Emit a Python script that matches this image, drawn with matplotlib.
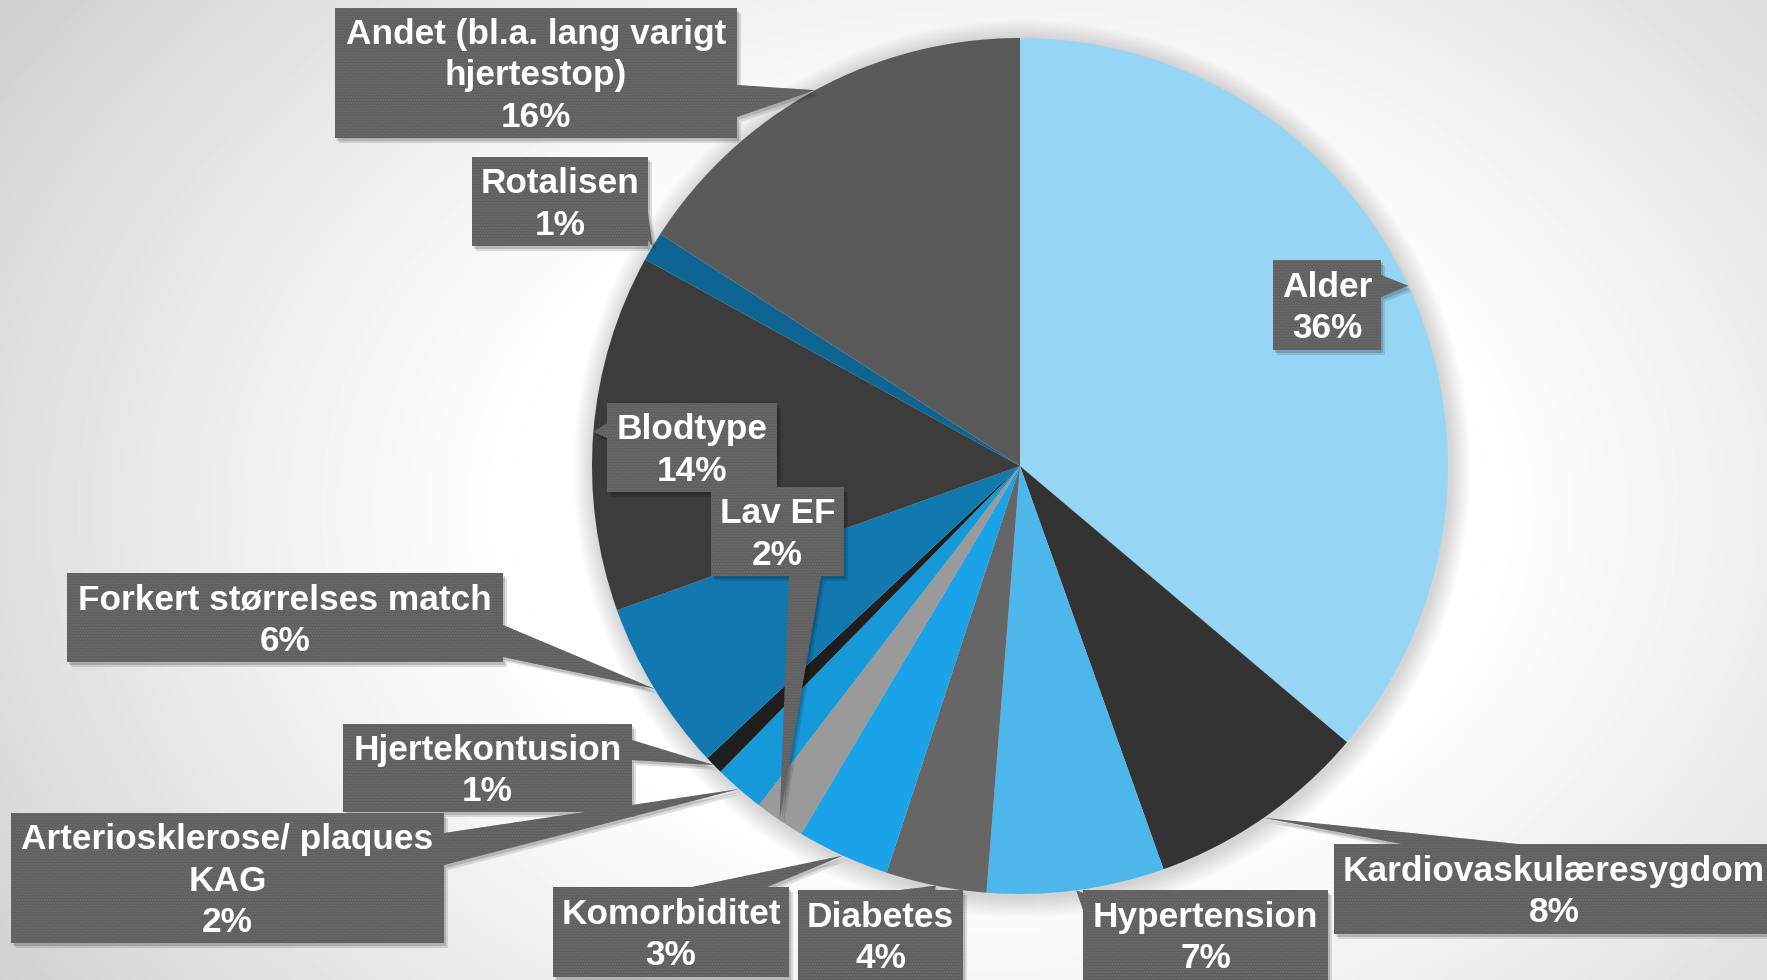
import numpy as np
import matplotlib
matplotlib.use('Agg')
from matplotlib import pyplot as plt
from matplotlib.patches import Rectangle, Polygon, Circle

W, H = 1767, 980

labels = ['Alder', 'Kardiovaskulæresygdom', 'Hypertension', 'Diabetes', 'Komorbiditet', 'Lav EF',
          'Arteriosklerose/ plaques\nKAG', 'Hjertekontusion', 'Forkert størrelses match', 'Blodtype',
          'Rotalisen', 'Andet (bl.a. lang varigt\nhjertestop)']
shares = [36.2, 8.4, 6.7, 3.8, 3.5, 1.9, 1.9, 0.7, 6.5, 13.5, 1.1, 15.9]
percent_text = ['36%', '8%', '7%', '4%', '3%', '2%', '2%', '1%', '6%', '14%', '1%', '16%']
colors = ['#97D5F4', '#333333', '#4DB7EC', '#666666', '#1AA3E8', '#9A9A9A',
          '#1699D9', '#1E1E1E', '#1279B0', '#3C3C3C', '#0E6592', '#5A5A5A']

# label boxes in pixels from the top-left corner: x0, y0, x1, y1, pointer side, pointer span
boxes = [
    (1273, 260, 1381, 350, 'right', (275, 297)),
    (1334, 844, 1780, 934, 'top', (1402, 1518)),
    (1083, 890, 1328, 985, 'left', (893, 910)),
    (798, 890, 963, 985, 'top', (900, 935)),
    (553, 887, 789, 977, 'top', (692, 767)),
    (711, 487, 844, 576, 'bottom', (789, 821)),
    (11, 813, 444, 943, 'right', (833, 865)),
    (343, 724, 632, 812, 'right', (740, 760)),
    (67, 573, 503, 662, 'right', (625, 657)),
    (607, 403, 777, 492, 'left', (423, 438)),
    (472, 157, 648, 246, 'right', (213, 240)),
    (335, 8, 737, 138, 'right', (85, 117)),
]

cx, cy, R = 1020, H - 466, 428
box_color = '#5E5E5E'
font = ['Liberation Sans', 'DejaVu Sans']

fig = plt.figure(figsize=(W / 100, H / 100), dpi=100)
ax = fig.add_axes([0, 0, 1, 1])

# background: soft radial gradient, white around the pie
gx, gy = np.meshgrid(np.linspace(0, W, 442), np.linspace(0, H, 245))
r = np.sqrt(((gx - 1000) / 1150) ** 2 + ((gy - 470) / 850) ** 2)
v = 1 - 0.18 * np.clip((r - 0.4) / 0.63, 0, 1) ** 1.2
ax.imshow(v, extent=(0, W, H, 0), cmap='gray', vmin=0, vmax=1, aspect='auto',
          interpolation='bilinear', zorder=0)

# soft shadow around the pie
for k in range(1, 22):
    ax.add_patch(Circle((cx + 2, cy - 3), R + k, color='black', alpha=0.006, lw=0, zorder=1))

wedges, _ = ax.pie(shares, colors=colors, startangle=90, counterclock=False,
                   center=(cx, cy), radius=R, wedgeprops=dict(linewidth=0, zorder=2))
for w in wedges:
    w.set_zorder(2)

ax.set_xlim(0, W)
ax.set_ylim(0, H)
ax.set_aspect('auto')
ax.axis('off')


def callout_points(box, tip):
    x0, y0, x1, y1, side, (a, b) = box
    if side == 'right':
        base = [(x1, H - a), (x1, H - b)]
    elif side == 'left':
        base = [(x0, H - a), (x0, H - b)]
    elif side == 'top':
        base = [(a, H - y0), (b, H - y0)]
    else:
        base = [(a, H - y1), (b, H - y1)]
    return base + [tip]


for i in reversed(range(len(labels))):
    w = wedges[i]
    mid = np.deg2rad((w.theta1 + w.theta2) / 2)
    tip = (cx + R * np.cos(mid), cy + R * np.sin(mid))
    x0, y0, x1, y1 = boxes[i][:4]
    z = 4 + (len(labels) - i) * 0.01
    tri = callout_points(boxes[i], tip)
    # drop shadow
    for off, al in [((4, -5), 0.12), ((2, -3), 0.15)]:
        ax.add_patch(Rectangle((x0 + off[0], H - y1 + off[1]), x1 - x0, y1 - y0,
                               color='black', alpha=al, lw=0, zorder=z - 0.005))
        ax.add_patch(Polygon([(p[0] + off[0], p[1] + off[1]) for p in tri], closed=True,
                             color='black', alpha=al, lw=0, zorder=z - 0.005))
    ax.add_patch(Rectangle((x0, H - y1), x1 - x0, y1 - y0, facecolor=box_color,
                           edgecolor='#6E6E6E', hatch='......', lw=0, zorder=z))
    ax.add_patch(Polygon(tri, closed=True, facecolor=box_color, edgecolor='#6E6E6E',
                         hatch='......', lw=0, zorder=z))
    ax.text((x0 + min(x1, W + 7)) / 2, H - (y0 + min(y1, 980)) / 2 - 3,
            labels[i] + '\n' + percent_text[i], color='white', fontsize=25.4,
            fontweight='bold', family=font, ha='center', va='center',
            multialignment='center', linespacing=1.33, zorder=z + 0.001)

fig.savefig('out.png', dpi=100)
